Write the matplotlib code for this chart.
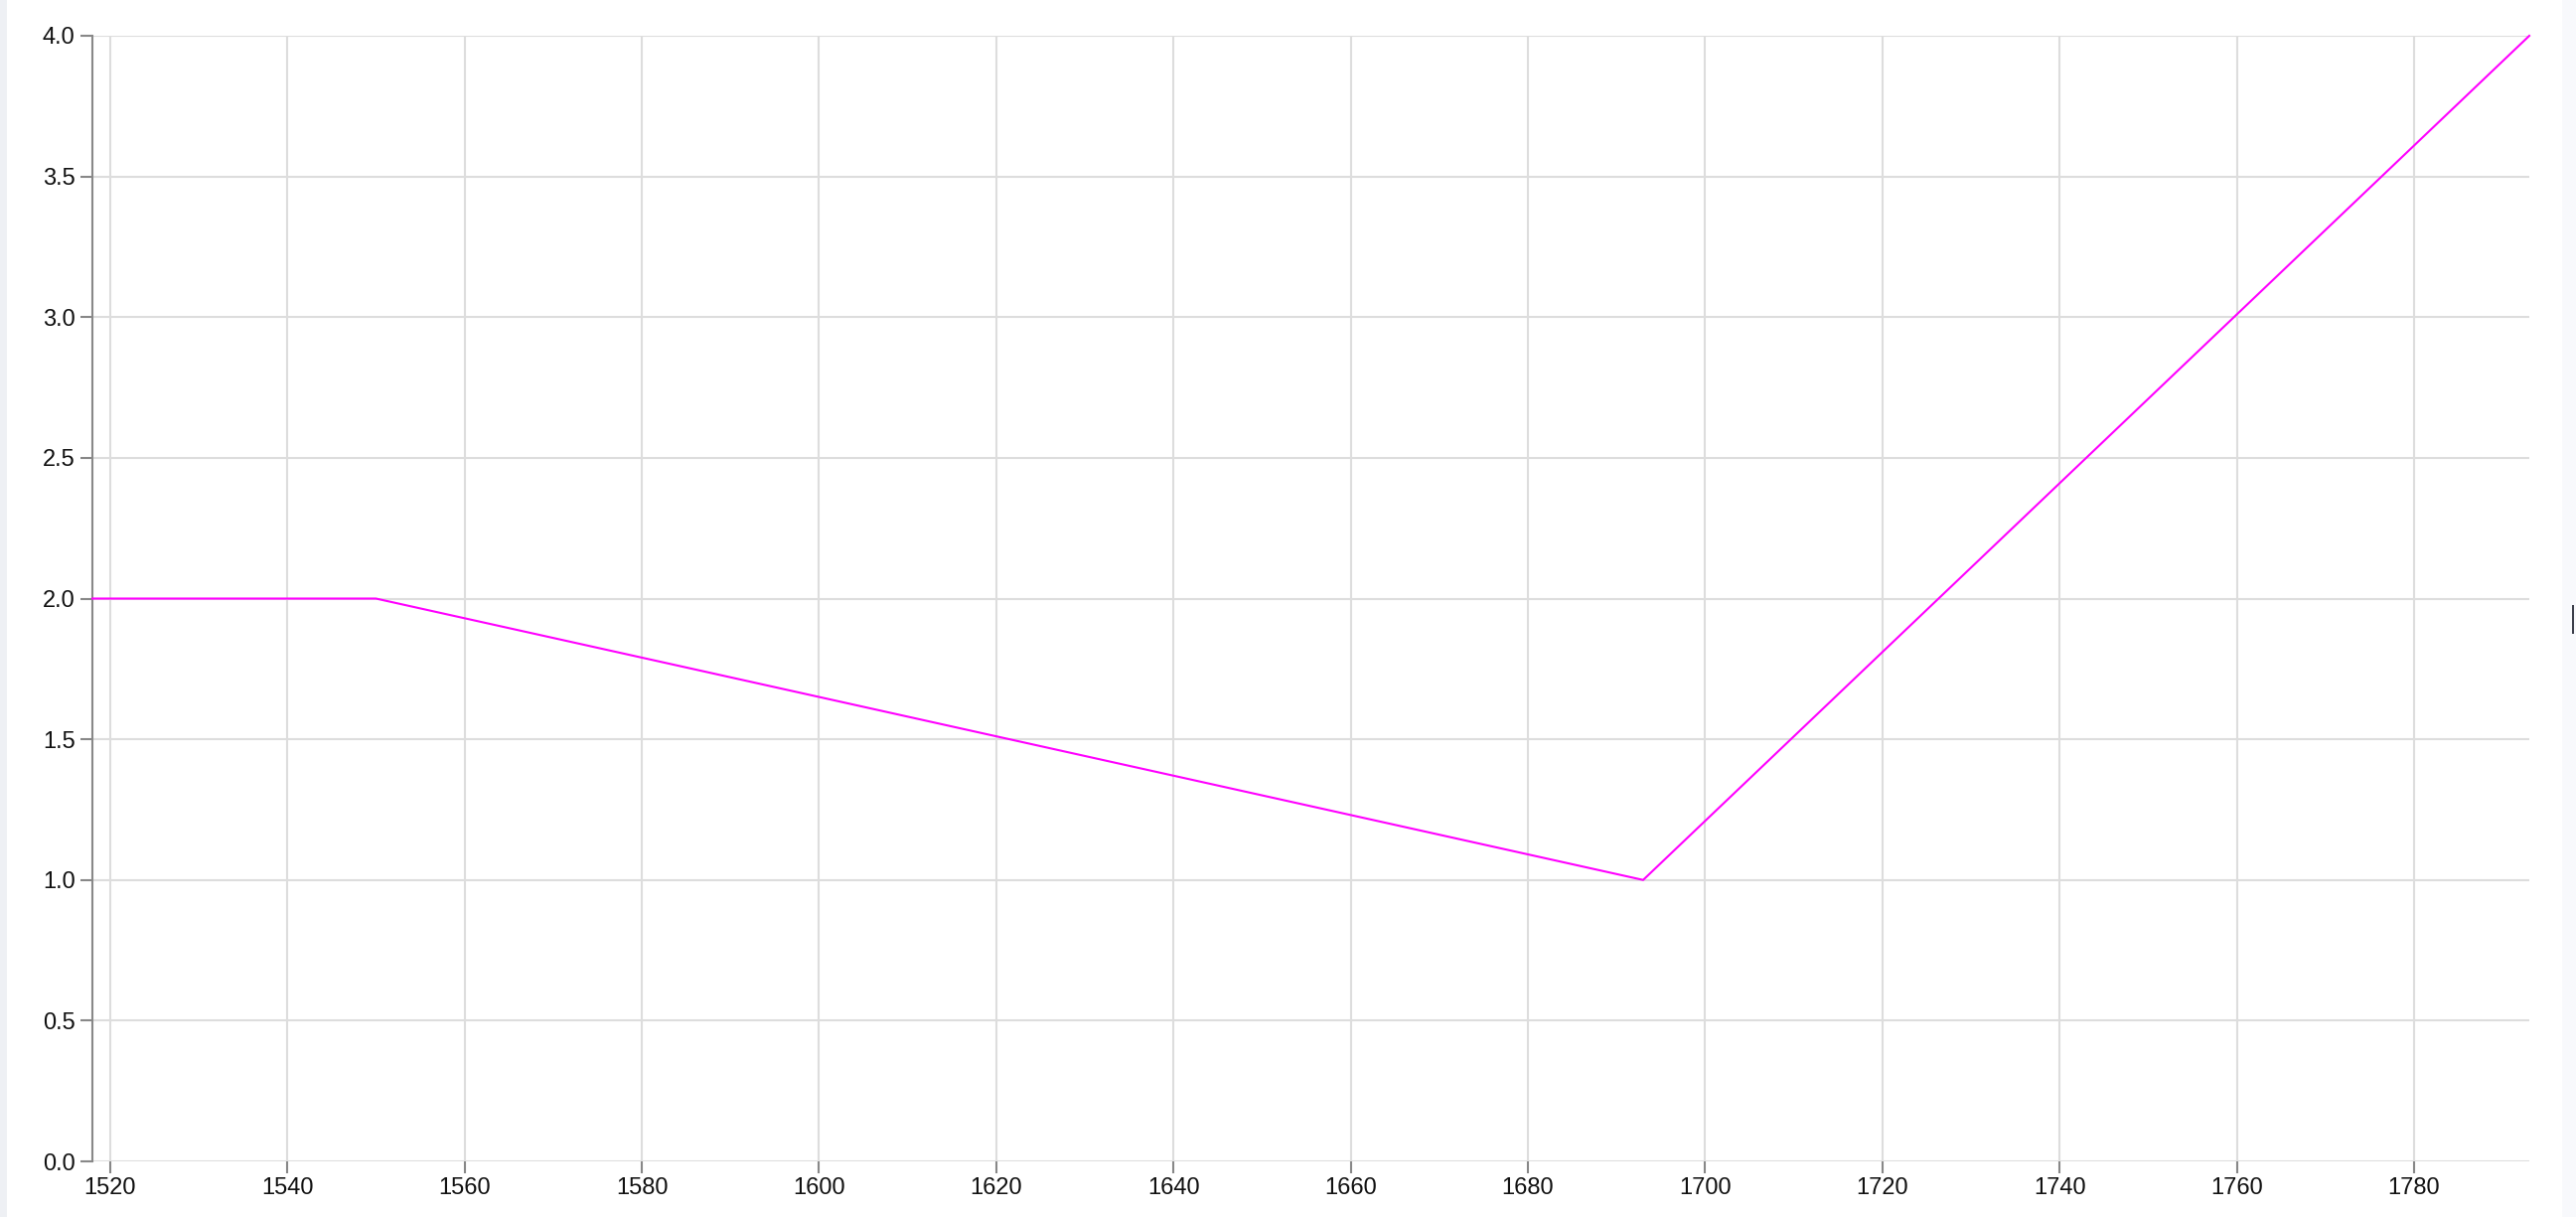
import matplotlib
matplotlib.use("Agg")
import numpy as np
from matplotlib import pyplot as plt
from matplotlib.patches import Rectangle

plt.rcParams['font.family'] = ['Liberation Sans', 'DejaVu Sans']

# data
years = [1518, 1550, 1693, 1793]
values = [2, 2, 1, 4]
x_ticks = list(range(1520, 1781, 20))
y_ticks = [0.0, 0.5, 1.0, 1.5, 2.0, 2.5, 3.0, 3.5, 4.0]

fig = plt.figure(figsize=(25.93, 12.25), dpi=100)
fig.patch.set_facecolor('white')

# page edges
fig.patches.append(Rectangle((0, 0), 7 / 2593, 1, transform=fig.transFigure,
                             facecolor='#eef0f4', edgecolor='none', zorder=0))
fig.patches.append(Rectangle((2579 / 2593, 0), 14 / 2593, 1, transform=fig.transFigure,
                             facecolor='#f8f9fc', edgecolor='none', zorder=0))
fig.patches.append(Rectangle((2589 / 2593, 587 / 1225), 2 / 2593, 29 / 1225,
                             transform=fig.transFigure, facecolor='#3c3f4a',
                             edgecolor='none', zorder=1))

ax = fig.add_axes([93 / 2593, 56 / 1225, (2546 - 93) / 2593, (1169 - 36) / 1225])

ax.plot(years, values, color='#ff00ff', linewidth=1.5, zorder=3, clip_on=False)

ax.set_xlim(1518, 1793)
ax.set_ylim(0, 4)
ax.set_xticks(x_ticks)
ax.set_yticks(y_ticks)
ax.set_yticklabels(['%.1f' % v for v in y_ticks])

ax.grid(True, color='#dddddd', linewidth=1.5, zorder=1)
ax.set_axisbelow(True)

for s in ['top', 'right', 'bottom']:
    ax.spines[s].set_visible(False)
ax.spines['left'].set_color('#888888')
ax.spines['left'].set_linewidth(1.5)
ax.spines['left'].set_zorder(2)

ax.tick_params(axis='both', colors='#888888', labelcolor='#111111',
               labelsize=17, length=8.5, width=1.5)
ax.tick_params(axis='y', pad=4)
ax.tick_params(axis='x', pad=3)

plt.savefig('out.png', dpi=100)
